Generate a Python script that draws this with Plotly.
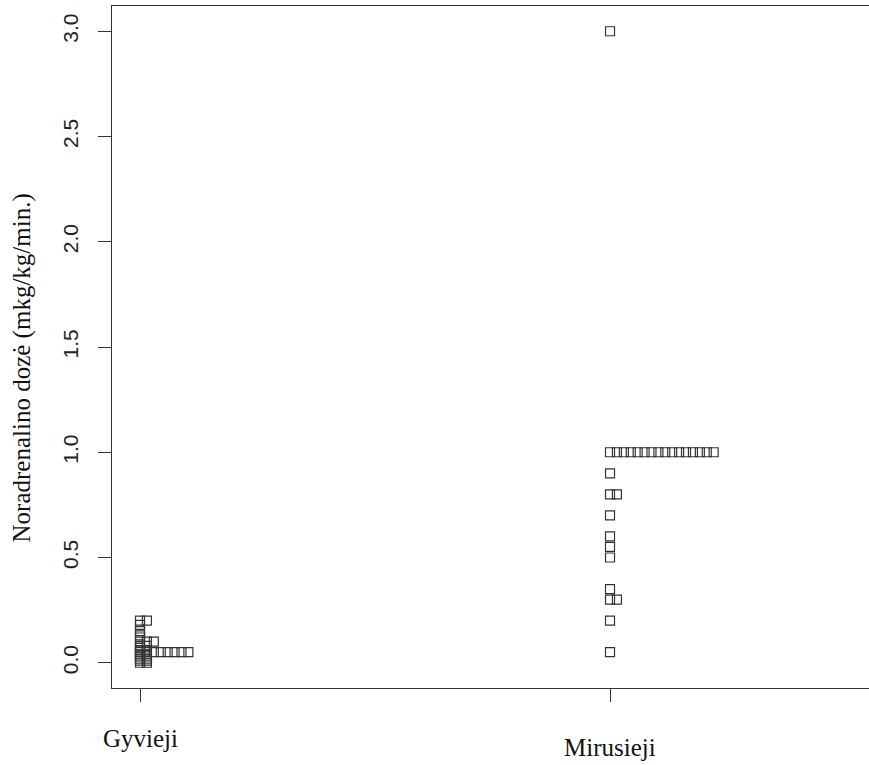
import plotly.graph_objects as go
from collections import Counter

# ---- data ----
categories = ["Gyvieji", "Mirusieji"]
gyvieji = [0.2, 0.2, 0.18, 0.15, 0.13, 0.12, 0.1, 0.1, 0.1, 0.08, 0.08, 0.07,
           0.06, 0.06, 0.05, 0.05, 0.05, 0.05, 0.05, 0.05, 0.05, 0.05,
           0.04, 0.04, 0.03, 0.03, 0.02, 0.02, 0.01, 0.01, 0.0, 0.0]
mirusieji = [0.05, 0.2, 0.3, 0.3, 0.35, 0.5, 0.55, 0.6, 0.7, 0.8, 0.8, 0.9,
             1.0, 1.0, 1.0, 1.0, 1.0, 1.0, 1.0, 1.0, 1.0, 1.0, 1.0, 1.0,
             1.0, 1.0, 1.0, 1.0, 3.0]
y_ticks = [0.0, 0.5, 1.0, 1.5, 2.0, 2.5, 3.0]
y_tick_labels = ["0.0", "0.5", "1.0", "1.5", "2.0", "2.5", "3.0"]
y_title = "Noradrenalino dozė (mkg/kg/min.)"

STACK_STEP = 0.0147  # stripchart(method="stack") offset


def stack(values, pos):
    seen = Counter()
    xs, ys = [], []
    for v in values:
        xs.append(pos + seen[v] * STACK_STEP)
        ys.append(v)
        seen[v] += 1
    return xs, ys


fig = go.Figure()
for i, (name, vals) in enumerate(zip(categories, [gyvieji, mirusieji])):
    xs, ys = stack(vals, i + 1)
    fig.add_trace(go.Scatter(
        x=xs, y=ys, mode="markers", name=name, showlegend=False,
        marker=dict(symbol="square-open", size=9, color="#333333",
                    line=dict(width=1.2, color="#333333")),
    ))

line_col = "#333333"
fig.update_layout(
    width=869, height=765,
    margin=dict(l=112, r=0, t=6, b=77),
    plot_bgcolor="white", paper_bgcolor="white",
    xaxis=dict(range=[0.9404, 2.551], tickvals=[1, 2], showticklabels=False,
               ticks="outside", ticklen=13, tickcolor=line_col, tickwidth=1,
               showline=True, linecolor=line_col, linewidth=1, mirror=True,
               showgrid=False, zeroline=False),
    yaxis=dict(range=[-0.12, 3.12], tickvals=y_ticks, ticktext=y_tick_labels,
               tickangle=-90, ticks="outside", ticklen=13, tickcolor=line_col,
               tickwidth=1, showline=True, linecolor=line_col, linewidth=1,
               showgrid=False, zeroline=False, ticklabelstandoff=12,
               tickfont=dict(family="Liberation Sans, Arial", size=21, color="#222222")),
)

# y axis title
fig.add_annotation(text=y_title, xref="paper", yref="paper", x=-0.1189,
                   y=0.47, xanchor="center", yanchor="middle", textangle=-90,
                   showarrow=False,
                   font=dict(family="Liberation Serif, Times New Roman", size=25,
                             color="#111111"))
# category labels (drawn at slightly different heights, as in the source)
label_offsets = [-50, -59]
for i, (name, off) in enumerate(zip(categories, label_offsets)):
    fig.add_annotation(text=name, x=i + 1, xref="x", yref="paper", y=0,
                       yshift=off, xanchor="center", yanchor="middle",
                       showarrow=False,
                       font=dict(family="Liberation Serif, Times New Roman",
                                 size=25, color="#111111"))

fig.write_html(
    "out.html",
    config={"displayModeBar": False},
    post_script="document.body.style.margin='0';document.body.style.overflow='hidden';",
)
